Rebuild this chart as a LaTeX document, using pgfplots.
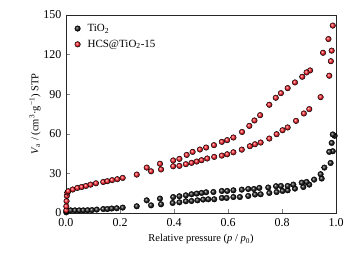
\documentclass[border=0pt]{standalone}
\usepackage{fontspec}
\setmainfont{Liberation Serif}
\usepackage{pgfplots}
\pgfplotsset{compat=1.18}
\definecolor{rball}{RGB}{255,30,40}
\definecolor{bball}{RGB}{25,25,25}
\begin{document}
\begin{tikzpicture}
\path (-66pt,-44pt) rectangle (287pt,213pt);
\begin{axis}[
  at={(0,0)}, anchor=south west,
  scale only axis, width=270pt, height=198pt,
  xmin=0, xmax=1, ymin=0, ymax=150,
  xtick={0,0.2,0.4,0.6,0.8,1.0},
  ytick={0,30,60,90,120,150},
  xtick pos=bottom, ytick pos=left, tick align=inside,
  major tick length=4pt,
  /pgf/number format/assume math mode=true,
  x tick label style={yshift=-2pt, /pgf/number format/.cd, fixed, fixed zerofill, precision=1},
  y tick label style={xshift=-1pt},
  tick label style={font=\fontsize{12}{14}\selectfont},
  label style={font=\fontsize{10.5}{12}\selectfont},
  xlabel={Relative pressure (\textit{p} / \textit{p}\textsubscript{0})},
  ylabel={\textit{V}\textsubscript{a} / (cm\textsuperscript{3}·g\textsuperscript{−1}) STP},
  xlabel style={yshift=-1pt},
  ylabel style={yshift=-4pt},
  axis line style={line width=0.8pt, draw=black!85},
  legend style={draw=none, fill=none, at={(0.02,0.975)}, anchor=north west,
    font=\fontsize{11}{13}\selectfont, row sep=3pt},
  legend cell align=left,
  clip=false,
]
\addplot[only marks, mark=ball, mark size=2.8pt, ball color=bball] coordinates {
(0.001,0.5)(0.002,1.5)(0.017,2.0)(0.033,2.0)(0.049,2.0)(0.064,2.0)(0.08,2.1)(0.096,2.2)
(0.114,2.6)(0.138,3.0)(0.153,3.0)(0.169,3.4)(0.188,3.6)(0.21,4.1)(0.262,5.1)(0.315,5.8)
(0.352,6.6)(0.395,7.6)(0.42,8.1)(0.444,8.9)(0.465,9.1)(0.487,9.6)(0.508,10.2)(0.527,10.4)
(0.549,10.4)(0.577,11.4)(0.595,11.4)(0.62,12.1)(0.644,12.1)(0.675,12.9)(0.7,14)(0.721,14.2)
(0.753,15.2)(0.78,15.9)(0.802,16.7)(0.821,17.2)(0.848,18.5)(0.879,19.7)(0.901,21.5)
(0.947,26.1)(0.98,37.9)(0.988,46.8)(0.995,58.5)
(0.988,59.5)(0.984,53.1)(0.975,46.3)(0.957,34.4)(0.943,29.4)(0.919,25.3)(0.891,23.5)
(0.873,23)(0.842,21.5)(0.821,20.5)(0.796,20.5)(0.778,20.3)(0.749,19.3)(0.716,19)
(0.696,18.2)(0.675,18.2)(0.651,17.7)(0.62,17.2)(0.597,16.7)(0.577,16.7)(0.546,15.9)
(0.519,15.7)(0.502,15.2)(0.484,14.7)(0.465,14.2)(0.444,13.4)(0.42,12.7)(0.397,12.1)
(0.348,10.9)(0.299,9.6)
};
\addlegendentry{\hspace{5pt}TiO\textsubscript{2}}
\addplot[only marks, mark=ball, mark size=2.8pt, ball color=rball] coordinates {
(0.001,2)(0.001,5)(0.002,9)(0.003,13)(0.005,15.5)
(0.0085,16.5)(0.025,17.8)(0.042,19.0)(0.058,19.7)(0.074,20.5)(0.091,21.5)(0.111,22.5)
(0.138,23.5)(0.153,24.1)(0.171,24.9)(0.19,25.6)(0.21,26.6)(0.262,29.1)(0.315,31.6)
(0.352,33)(0.397,35.4)(0.42,35.7)(0.444,37)(0.465,38)(0.484,39)(0.502,40)(0.523,41.3)
(0.549,42.5)(0.577,43.5)(0.597,44.5)(0.62,46)(0.651,48)(0.681,50.6)(0.7,52.1)(0.721,53.4)
(0.753,56.4)(0.78,59.7)(0.802,62.7)(0.821,64.8)(0.852,69.8)(0.881,75.4)(0.901,78.7)
(0.943,87.8)(0.975,104)(0.984,123)(0.988,142)
(0.972,131.8)(0.952,121.4)(0.981,115)(0.904,108)(0.891,106.5)(0.875,103.2)(0.848,98.9)
(0.821,94.6)(0.796,90.8)(0.777,87.3)(0.753,82)(0.719,74.1)(0.698,70.1)(0.679,66)
(0.652,61.4)(0.62,57.2)(0.597,55.2)(0.577,53.9)(0.548,51.4)(0.519,49.6)(0.496,48.1)
(0.469,46.3)(0.447,44)(0.42,41)(0.397,39.8)(0.348,37.3)(0.299,34.4)
};
\addlegendentry{\hspace{5pt}HCS@TiO\textsubscript{2}-15}
\end{axis}
\end{tikzpicture}
\end{document}
